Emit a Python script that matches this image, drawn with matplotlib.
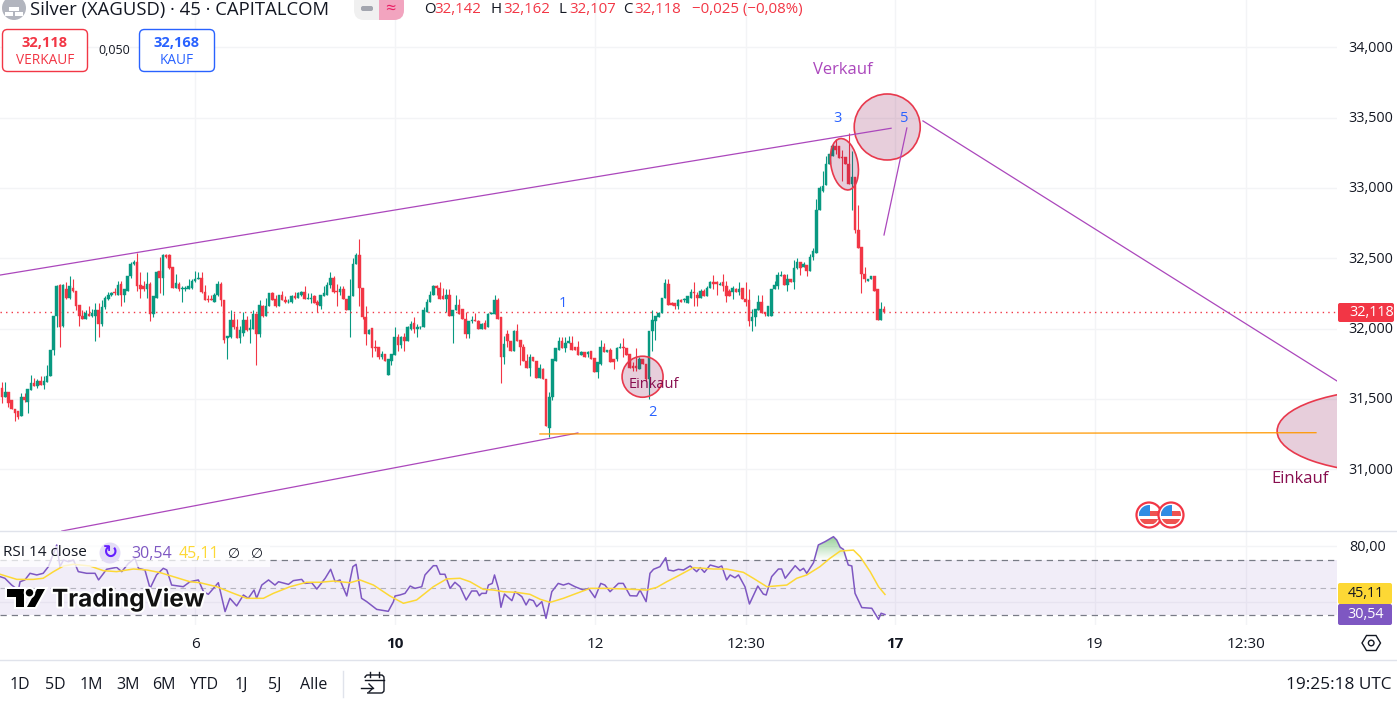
# Silver (XAGUSD) 45 min candles with RSI pane, TradingView style screenshot
import matplotlib
matplotlib.use("Agg")
import matplotlib.pyplot as plt
import matplotlib.patheffects as pe
from matplotlib.patches import Ellipse, Rectangle, FancyBboxPatch, Circle, Polygon
from matplotlib.path import Path
from matplotlib.transforms import Affine2D
import numpy as np

plt.rcParams['font.family'] = ['Open Sans', 'DejaVu Sans']

# candles
opens = [31.58,31.51,31.55,31.49,31.43,31.41,31.38,31.51,31.48,31.56,
 31.61,31.59,31.63,31.60,31.62,31.66,31.85,32.09,32.31,32.02,
 32.28,32.22,32.29,32.27,32.17,32.09,32.07,32.10,32.09,32.09,
 32.13,32.03,32.15,32.21,32.24,32.26,32.24,32.32,32.24,32.27,
 32.37,32.46,32.47,32.31,32.30,32.28,32.32,32.10,32.22,32.41,
 32.36,32.52,32.52,32.44,32.29,32.32,32.28,32.28,32.28,32.29,
 32.34,32.35,32.36,32.26,32.21,32.21,32.19,32.24,32.32,32.20,
 31.93,31.94,32.06,32.01,31.93,31.97,32.06,31.99,32.00,32.10,
 31.96,32.16,32.09,32.16,32.25,32.21,32.16,32.24,32.20,32.19,
 32.19,32.23,32.22,32.24,32.26,32.21,32.21,32.23,32.19,32.16,
 32.23,32.24,32.31,32.36,32.27,32.26,32.28,32.21,32.13,32.23,
 32.46,32.52,32.29,32.08,31.96,32.00,31.87,31.87,31.80,31.82,
 31.67,31.77,31.81,31.94,31.88,31.94,31.91,32.00,32.04,32.00,
 32.01,32.01,32.12,32.19,32.24,32.30,32.29,32.23,32.21,32.24,
 32.09,32.13,32.17,32.14,32.07,31.96,32.05,32.06,32.05,32.00,
 32.04,32.01,32.10,32.10,32.20,32.08,31.80,31.96,31.91,31.84,
 31.98,31.92,31.87,31.77,31.72,31.80,31.77,31.65,31.71,31.64,
 31.29,31.51,31.77,31.85,31.91,31.86,31.90,31.90,31.87,31.87,
 31.81,31.83,31.82,31.84,31.79,31.69,31.75,31.87,31.83,31.85,
 31.78,31.78,31.86,31.87,31.86,31.82,31.73,31.73,31.71,31.78,
 31.75,31.64,31.98,32.05,32.08,32.11,32.22,32.32,32.18,32.18,
 32.16,32.20,32.20,32.18,32.22,32.26,32.24,32.22,32.27,32.23,
 32.29,32.33,32.33,32.31,32.33,32.30,32.27,32.26,32.28,32.26,
 32.29,32.21,32.20,32.05,32.08,32.13,32.19,32.12,32.09,32.09,
 32.28,32.30,32.37,32.38,32.31,32.35,32.33,32.43,32.47,32.44,
 32.45,32.41,32.51,32.54,32.84,32.98,33.02,33.17,33.23,33.30,
 33.30,33.22,33.22,33.17,33.03,33.08,32.70,32.58,32.39,32.34,
 32.35,32.37,32.28,32.06,32.14]
highs = [31.62,31.62,31.55,31.49,31.43,31.41,31.54,31.54,31.57,31.67,
 31.65,31.64,31.66,31.66,31.74,31.85,32.09,32.31,32.32,32.32,
 32.33,32.37,32.35,32.27,32.17,32.13,32.13,32.16,32.14,32.18,
 32.18,32.20,32.23,32.26,32.26,32.29,32.34,32.34,32.28,32.37,
 32.47,32.49,32.54,32.40,32.34,32.40,32.33,32.23,32.41,32.51,
 32.53,32.53,32.53,32.44,32.39,32.33,32.30,32.30,32.35,32.35,
 32.41,32.40,32.40,32.31,32.24,32.24,32.25,32.34,32.33,32.20,
 31.95,32.13,32.11,32.07,32.02,32.12,32.09,32.07,32.13,32.11,
 32.20,32.17,32.22,32.25,32.26,32.24,32.24,32.27,32.23,32.21,
 32.24,32.26,32.26,32.27,32.30,32.25,32.25,32.24,32.20,32.24,
 32.30,32.33,32.40,32.37,32.32,32.30,32.30,32.21,32.35,32.50,
 32.54,32.64,32.29,32.16,32.00,32.00,31.92,31.87,31.84,31.82,
 31.78,31.82,32.01,31.96,31.95,31.97,32.02,32.05,32.08,32.03,
 32.02,32.15,32.21,32.27,32.31,32.31,32.33,32.29,32.28,32.28,
 32.13,32.24,32.21,32.14,32.12,32.05,32.09,32.11,32.06,32.04,
 32.06,32.11,32.12,32.24,32.22,32.08,31.95,31.99,31.91,31.99,
 32.03,31.92,31.89,31.82,31.82,31.80,31.77,31.75,31.72,31.64,
 31.55,31.78,31.86,31.94,31.94,31.94,31.95,31.95,31.87,31.91,
 31.84,31.83,31.84,31.84,31.79,31.76,31.92,31.90,31.85,31.86,
 31.78,31.87,31.90,31.93,31.86,31.82,31.76,31.86,31.80,31.78,
 31.75,31.98,32.13,32.09,32.12,32.22,32.35,32.35,32.19,32.18,
 32.21,32.21,32.22,32.23,32.28,32.33,32.26,32.28,32.28,32.30,
 32.34,32.38,32.34,32.33,32.39,32.34,32.28,32.30,32.29,32.33,
 32.29,32.33,32.28,32.14,32.14,32.24,32.24,32.12,32.16,32.28,
 32.34,32.40,32.41,32.39,32.39,32.35,32.49,32.50,32.47,32.47,
 32.45,32.53,32.57,32.92,33.01,33.12,33.23,33.24,33.31,33.35,
 33.30,33.27,33.22,33.39,33.26,33.08,32.88,32.58,32.44,32.35,
 32.37,32.37,32.28,32.19,32.16]
lows = [31.47,31.51,31.44,31.43,31.34,31.36,31.38,31.48,31.40,31.56,
 31.59,31.58,31.60,31.57,31.62,31.66,31.81,32.01,31.87,32.01,
 32.21,32.21,32.26,32.13,32.02,32.07,32.07,32.09,32.08,31.91,
 31.94,32.02,32.14,32.20,32.23,32.24,32.24,32.16,32.19,32.27,
 32.36,32.45,32.27,32.22,32.27,32.22,32.05,32.08,32.22,32.25,
 32.24,32.50,32.42,32.29,32.29,32.27,32.19,32.27,32.28,32.28,
 32.33,32.35,32.25,32.20,32.19,32.20,32.19,32.23,32.16,31.90,
 31.78,31.93,32.00,31.93,31.90,31.95,31.98,31.90,32.00,31.74,
 31.94,32.08,32.09,32.16,32.20,32.15,32.16,32.20,32.18,32.18,
 32.18,32.21,32.22,32.23,32.21,32.21,32.18,32.18,32.12,32.14,
 32.23,32.24,32.29,32.25,32.16,32.24,32.21,32.13,31.94,32.23,
 32.46,32.16,32.07,31.88,31.96,31.80,31.84,31.78,31.78,31.77,
 31.67,31.74,31.81,31.84,31.86,31.84,31.91,31.99,31.97,31.94,
 32.00,32.01,32.12,32.19,32.24,32.24,32.21,32.21,32.12,32.09,
 31.90,32.13,32.10,32.07,31.93,31.93,32.04,32.05,32.00,32.00,
 32.00,32.01,32.10,32.10,32.07,31.61,31.75,31.87,31.84,31.84,
 31.91,31.74,31.77,31.72,31.66,31.77,31.65,31.65,31.64,31.31,
 31.23,31.49,31.77,31.85,31.86,31.83,31.90,31.85,31.85,31.81,
 31.81,31.80,31.80,31.78,31.69,31.65,31.74,31.83,31.83,31.76,
 31.71,31.77,31.86,31.80,31.81,31.72,31.70,31.70,31.71,31.75,
 31.63,31.50,31.84,31.92,32.08,32.11,32.22,32.17,32.17,32.14,
 32.14,32.19,32.19,32.18,32.22,32.16,32.16,32.22,32.23,32.23,
 32.29,32.28,32.24,32.31,32.27,32.19,32.23,32.21,32.26,32.24,
 32.21,32.16,32.02,31.98,32.02,32.13,32.11,32.09,32.09,32.09,
 32.28,32.28,32.37,32.31,32.27,32.33,32.28,32.42,32.38,32.44,
 32.37,32.41,32.49,32.54,32.84,32.97,33.02,33.17,33.23,33.24,
 33.21,33.05,33.17,33.03,32.84,32.68,32.57,32.25,32.33,32.34,
 32.35,32.27,32.06,32.06,32.11]
closes = [31.51,31.55,31.47,31.43,31.40,31.37,31.51,31.49,31.57,31.61,
 31.59,31.63,31.60,31.63,31.66,31.85,32.09,32.30,32.01,32.31,
 32.22,32.30,32.27,32.16,32.09,32.07,32.11,32.09,32.11,32.13,
 32.03,32.15,32.22,32.24,32.25,32.25,32.31,32.24,32.28,32.37,
 32.46,32.47,32.30,32.28,32.28,32.32,32.10,32.23,32.40,32.36,
 32.52,32.51,32.43,32.29,32.32,32.28,32.29,32.29,32.30,32.34,
 32.35,32.36,32.26,32.20,32.20,32.20,32.24,32.32,32.20,31.92,
 31.95,32.06,32.01,31.93,31.99,32.06,31.99,32.00,32.10,31.96,
 32.17,32.09,32.16,32.25,32.20,32.16,32.24,32.20,32.19,32.19,
 32.23,32.22,32.25,32.26,32.21,32.22,32.22,32.18,32.17,32.24,
 32.25,32.31,32.36,32.26,32.26,32.28,32.21,32.13,32.23,32.46,
 32.52,32.29,32.08,31.96,31.99,31.86,31.86,31.80,31.82,31.77,
 31.78,31.82,31.94,31.88,31.94,31.91,32.01,32.03,32.00,32.01,
 32.01,32.13,32.19,32.24,32.30,32.29,32.21,32.21,32.24,32.09,
 32.13,32.17,32.10,32.07,31.96,32.05,32.06,32.05,32.00,32.03,
 32.00,32.10,32.11,32.20,32.07,31.80,31.89,31.91,31.84,31.98,
 31.91,31.87,31.77,31.72,31.80,31.77,31.65,31.72,31.64,31.31,
 31.51,31.78,31.86,31.91,31.86,31.90,31.91,31.85,31.85,31.81,
 31.83,31.80,31.83,31.78,31.69,31.76,31.87,31.83,31.85,31.76,
 31.76,31.86,31.87,31.86,31.81,31.72,31.72,31.72,31.78,31.75,
 31.64,31.98,32.06,32.09,32.11,32.22,32.32,32.17,32.17,32.16,
 32.20,32.19,32.21,32.23,32.26,32.25,32.22,32.27,32.23,32.29,
 32.33,32.32,32.32,32.32,32.30,32.23,32.23,32.29,32.26,32.28,
 32.21,32.19,32.05,32.08,32.14,32.19,32.11,32.10,32.16,32.28,
 32.31,32.38,32.38,32.31,32.35,32.33,32.43,32.47,32.43,32.46,
 32.41,32.51,32.55,32.84,33.00,33.01,33.17,33.24,33.30,33.27,
 33.21,33.21,33.17,33.03,33.08,32.70,32.57,32.39,32.35,32.35,
 32.37,32.27,32.06,32.14,32.12]
last_price = 32.118

# RSI line and its moving average, vertices
rsi_bar = [-0.6,0.9,3.0,5.1,5.6,7.1,8.7,10.8,12.8,14.4,17.0,18.0,19.1,20.6,22.2,23.7,26.3,28.9,30.0,32.5,
 35.6,37.2,39.3,41.3,42.4,44.4,46.0,48.0,50.1,51.2,52.7,56.3,58.4,61.0,62.6,64.1,67.2,69.3,70.8,72.9,
 75.0,76.5,78.3,79.1,80.7,82.8,84.8,85.9,89.0,90.5,93.1,94.1,96.2,97.8,100.4,102.1,103.5,105.0,107.1,109.0,
 110.0,111.7,113.3,116.4,120.0,121.6,122.1,123.6,125.2,126.8,128.3,130.4,131.4,134.0,135.0,136.1,137.6,139.2,140.7,142.3,
 144.2,145.9,147.5,148.3,149.0,150.4,151.1,152.3,153.0,154.2,155.0,156.1,158.4,159.4,161.5,162.8,163.8,165.1,166.1,167.7,
 169.0,170.8,172.8,174.4,176.0,178.0,180.6,182.2,184.2,186.0,187.3,188.9,191.5,193.0,195.1,197.2,198.2,200.1,201.3,202.4,
 204.4,206.2,207.0,208.6,210.1,211.7,213.8,215.8,216.9,218.2,220.0,222.6,223.6,225.1,226.2,227.7,228.8,230.8,232.2,234.8,
 236.5,237.4,239.1,241.2,242.2,243.3,246.4,247.9,249.0,250.0,252.1,253.6,255.7,258.3,259.3,260.4,261.4,262.9,264.0,265.0,
 267.1,270.2,272.3,273.1,274.3]
rsi_val = [58.0,56.8,51.9,48.3,54.3,55.6,60.4,59.2,60.4,65.2,80.9,65.2,70.0,68.8,70.0,61.6,60.4,60.4,55.6,63.3,
 64.7,61.6,67.6,71.2,64.0,62.8,49.5,59.2,64.0,62.8,51.9,50.7,54.3,55.6,47.1,45.2,53.6,32.7,42.3,36.8,
 44.7,42.3,48.3,42.3,51.9,55.6,51.9,54.3,52.4,55.1,56.0,53.1,53.6,49.0,56.8,63.3,54.3,55.6,44.0,65.2,
 66.9,42.3,39.9,34.3,32.9,39.9,44.0,44.7,45.9,51.2,49.5,50.7,59.2,65.9,65.9,59.7,59.7,49.5,53.9,50.7,
 41.1,47.6,47.6,44.2,45.9,45.9,51.9,53.1,59.2,49.5,35.8,45.4,40.6,47.1,43.5,37.5,41.6,40.6,36.3,39.9,
 27.8,47.1,53.1,51.9,53.1,50.7,48.3,49.5,42.8,53.1,51.9,47.1,53.1,53.1,44.2,44.0,48.3,39.9,60.4,63.3,
 65.2,71.7,62.8,62.1,63.3,62.8,65.7,61.6,64.5,61.1,66.4,64.7,65.7,55.6,59.2,57.2,59.2,50.7,38.2,51.2,
 45.4,44.7,58.0,63.5,63.5,56.8,65.9,62.3,64.0,60.4,68.1,80.9,83.3,86.9,84.5,79.2,77.7,66.4,65.7,45.9,
 35.6,35.1,27.1,31.5,30.54]
ma_bar = [-0.6,4.6,9.7,12.8,16.0,19.1,22.2,27.3,31.5,35.6,40.8,45.0,49.1,53.2,58.4,61.5,66.7,71.9,76.0,81.2,
 84.3,89.5,94.6,98.8,103.0,108.1,111.2,115.4,120.5,124.7,128.8,134.0,138.1,142.3,145.4,149.5,152.7,155.8,159.9,164.0,
 167.2,170.3,174.4,178.5,182.7,187.9,194.1,200.3,203.4,206.5,209.6,214.8,221.0,225.1,230.3,233.4,237.6,243.8,246.9,250.0,
 254.1,257.2,260.4,264.5,266.6,269.7,272.3,274.3]
ma_val = [59.7,56.0,56.0,56.8,61.6,65.7,66.9,65.7,62.3,61.6,63.5,62.8,60.9,58.0,54.3,53.6,50.7,45.9,42.3,42.3,
 45.9,50.7,53.9,53.9,54.8,53.6,55.6,51.9,44.0,38.7,41.1,50.7,56.3,56.8,54.3,48.8,48.3,47.1,46.6,45.2,
 41.6,39.4,42.3,45.9,49.5,49.5,49.0,48.3,50.2,54.3,58.0,64.5,63.5,63.5,61.1,56.8,50.7,51.9,56.8,59.2,
 65.2,71.2,76.5,77.2,72.4,61.6,50.7,45.11]

# axis ticks
price_ticks = [31.0, 31.5, 32.0, 32.5, 33.0, 33.5, 34.0]
price_labels = ["31,000", "31,500", "32,000", "32,500", "33,000", "33,500", "34,000"]
time_ticks = [60.0, 122.1, 184.2, 231.1, 277.4, 339.5, 386.5]
time_labels = ["6", "10", "12", "12:30", "17", "19", "12:30"]
time_bold = ["10", "17"]

# drawings on the chart, as (bar, price)
upper_trend = ([-0.6, 276.2], [32.38, 33.424])
lower_trend = ([18.6, 178.9], [30.56, 31.257])
target_line = ([167.1, 408.2], [31.25, 31.259])
down_line = ([286.1, 414.7], [33.476, 31.627])
up_line = ([274.0, 281.1], [32.665, 33.426])

W, H = 1397, 704
RIGHT = 1337
UP, DOWN = "#089981", "#f23645"
PURPLE, ORANGE = "#ab47bc", "#ff9800"
GRID = "#f3f4f6"
INK = "#131722"


def pane(top, bottom):
    return fig.add_axes([0, 1 - bottom / H, RIGHT / W, (bottom - top) / H])


fig = plt.figure(figsize=(W / 100, H / 100), dpi=100)
ax = pane(0, 531)
rsi_ax = pane(531, 625)

bar_step = 3.219
xlim = (-2 / bar_step, (RIGHT - 2) / bar_step)
up_1px = Affine2D().translate(0, 1)

# price pane
ax.set_xlim(*xlim)
ax.set_ylim(30.56, 34.336)
ax.set_autoscale_on(False)
ax.grid(True, color=GRID, lw=1)
ax.set_axisbelow(True)
ax.set_xticks(time_ticks)
ax.tick_params(axis='x', length=0, labelbottom=False)
ax.yaxis.tick_right()
ax.set_yticks(price_ticks)
ax.set_yticklabels(price_labels, fontsize=10.4, color=INK)
ax.tick_params(axis='y', length=0, pad=8.5)
for lab in ax.get_yticklabels():
    lab.set_transform(lab.get_transform() + up_1px)
for s in ax.spines.values():
    s.set_visible(False)

bars = np.arange(len(closes))
o, h, l, c = map(np.array, (opens, highs, lows, closes))
colors = np.where(c >= o, UP, DOWN)
ax.vlines(bars, l, h, colors=colors, lw=0.8, zorder=2)
ax.bar(bars, np.abs(c - o), bottom=np.minimum(o, c), width=0.8, color=colors,
       edgecolor=colors, linewidth=0.3, zorder=3)
ax.axhline(last_price, color=DOWN, lw=1, ls=(0, (1, 3)), zorder=2)

for line, col in [(upper_trend, PURPLE), (lower_trend, PURPLE), (down_line, PURPLE),
                  (up_line, PURPLE), (target_line, ORANGE)]:
    ax.plot(*line, color=col, lw=0.9, zorder=5)


def shape(bar, price, w, h, angle=0):
    # width and height in screen pixels, centre on the data scales
    cx, cy = ax.transData.transform((bar, price))
    e = Ellipse((0, 0), w, h, facecolor=(0.533, 0.055, 0.31, 0.2), edgecolor="#e8394d", lw=1.2,
                transform=Affine2D().rotate_deg(angle).translate(cx, cy), zorder=4)
    ax.add_patch(e)


shape(275.0, 33.433, 66, 66)
shape(261.7, 33.168, 27, 52, 10)
shape(199.0, 31.657, 41, 41)
shape(433.4, 31.27, 240, 84)

ax.text(202.5, 31.605, "Einkauf", color="#880e4f", fontsize=10.5, ha='center', va='center', zorder=6)
ax.text(261.2, 33.84, "Verkauf", color=PURPLE, fontsize=12, ha='center', va='center', zorder=6)
ax.text(403.2, 30.93, "Einkauf", color="#880e4f", fontsize=12, ha='center', va='center', zorder=6)
for bar, price, txt in [(174.3, 32.175, "1"), (202.2, 31.406, "2"), (259.4, 33.495, "3"), (280.2, 33.495, "5")]:
    ax.text(bar, price, txt, color="#2962ff", fontsize=10.5, ha='center', va='center', zorder=6)

# RSI pane
rsi_ax.set_xlim(*xlim)
rsi_ax.set_ylim(23.0, 91.0)
rsi_ax.set_autoscale_on(False)
rsi_ax.set_xticks(time_ticks)
rsi_ax.set_xticklabels(time_labels, fontsize=11, color=INK)
for lab in rsi_ax.get_xticklabels():
    if lab.get_text() in time_bold:
        lab.set_fontweight('bold')
rsi_ax.tick_params(axis='x', length=0, pad=9)
rsi_ax.grid(True, axis='x', color=GRID, lw=1)
rsi_ax.yaxis.tick_right()
rsi_ax.set_yticks([40, 80])
rsi_ax.set_yticklabels(["", "80,00"], fontsize=10.4, color=INK)
rsi_ax.tick_params(axis='y', length=0, pad=8.5)
for lab in rsi_ax.get_yticklabels():
    lab.set_transform(lab.get_transform() + up_1px)
for v in [40, 80]:
    rsi_ax.axhline(v, color=GRID, lw=1, zorder=0)
rsi_ax.set_axisbelow(True)
for s in rsi_ax.spines.values():
    s.set_visible(False)

rsi_ax.axhspan(30, 70, color="#7e57c2", alpha=0.1, lw=0, zorder=1)
rsi_ax.axhline(70, color="#787b86", lw=0.9, ls=(0, (5, 4)), zorder=2)
rsi_ax.axhline(50, color="#787b86", lw=0.8, ls=(0, (5, 4)), alpha=0.5, zorder=2)
rsi_ax.axhline(30, color="#787b86", lw=0.9, ls=(0, (5, 4)), zorder=2)

rsi_x, rsi_y = np.array(rsi_bar), np.array(rsi_val)
over = rsi_ax.fill_between(rsi_x, 70, rsi_y, where=rsi_y > 70, interpolate=True, color='none', lw=0)
grad = np.zeros((64, 1, 4))
grad[..., :3] = (0.3, 0.69, 0.31)
grad[:, 0, 3] = np.linspace(0, 0.6, 64)
img = rsi_ax.imshow(grad, extent=(xlim[0], xlim[1], 70, 87), origin='lower', aspect='auto', zorder=2)
img.set_clip_path(Path.make_compound_path(*over.get_paths()), transform=rsi_ax.transData)
rsi_ax.set_xlim(*xlim)
rsi_ax.set_ylim(23.0, 91.0)
rsi_ax.plot(rsi_x, rsi_y, color="#7e57c2", lw=1.1, zorder=3)
rsi_ax.plot(ma_bar, ma_val, color="#fdd835", lw=1.1, zorder=3)

# everything around the panes, in screen pixels
ui = fig.add_axes([0, 0, 1, 1], zorder=10)
ui.set_xlim(0, W)
ui.set_ylim(H, 0)
ui.axis('off')
ui.patch.set_alpha(0)


def label(x, y, txt, size=10, color=INK, ha='left', weight='normal', **kw):
    return ui.text(x, y, txt, fontsize=size, color=color, ha=ha, va='center', fontweight=weight, **kw)


def box(x0, y0, x1, y1, fc, ec='none', lw=0, r=0, **kw):
    if r:
        p = FancyBboxPatch((x0 + r, y0 + r), x1 - x0 - 2 * r, y1 - y0 - 2 * r,
                           boxstyle=f"round,pad={r},rounding_size={r}", fc=fc, ec=ec, lw=lw, **kw)
    else:
        p = Rectangle((x0, y0), x1 - x0, y1 - y0, fc=fc, ec=ec, lw=lw, **kw)
    ui.add_patch(p)
    return p


# pane separators
ui.plot([0, W], [531, 531], color="#e0e3eb", lw=1)
ui.plot([0, W], [660, 660], color="#e0e3eb", lw=1)

# header
ui.add_patch(Circle((14, 8), 12, fc="#b2b5be", ec='none'))
box(9, 7, 19, 11, "white")
box(5, 12, 13, 16, "white")
box(15, 12, 23, 16, "white")
label(30, 9.5, "Silver (XAGUSD) · 45 · CAPITALCOM", 13.3)
box(354, -8, 404, 20, "#f0f0f0", r=10)
box(379, -8, 404, 20, "#f2a4bf", r=10)
box(379, -8, 390, 20, "#f2a4bf")
box(361, 6, 373, 11, "#a3a6af", r=2)
label(390, 8.5, "≈", 13, "#e91e63", ha='center')

for head, val, x, vx in [("O", "32,142", 424, 434), ("H", "32,162", 491, 503),
                         ("L", "32,107", 559, 569), ("C", "32,118", 623, 634)]:
    label(x, 9.5, head, 10.8)
    label(vx, 9.5, val, 10.8, DOWN)
label(692, 9.5, "−0,025 (−0,08%)", 10.8, DOWN)

# buy and sell buttons
box(2.5, 29.5, 87.5, 71.5, "white", DOWN, 1, r=5)
label(45, 43, "32,118", 10.5, DOWN, ha='center', weight='bold')
label(45, 60, "VERKAUF", 9.8, DOWN, ha='center')
label(114, 50.5, "0,050", 9, INK, ha='center')
box(139.5, 29.5, 214.5, 71.5, "white", "#2962ff", 1, r=5)
label(177, 43, "32,168", 10.5, "#2962ff", ha='center', weight='bold')
label(177, 60, "KAUF", 9.8, "#2962ff", ha='center')

# price scale markers
box(1338, 303, 1394, 322, DOWN, r=2)
label(1372, 312, "32,118", 10.4, "white", ha='center')
box(1338, 583, 1392, 604, "#fdd835", r=2)
label(1366, 593.5, "45,11", 10.4, INK, ha='center')
box(1338, 604, 1392, 625, "#7e57c2", r=2)
label(1366, 614.5, "30,54", 10.4, "white", ha='center')

# event flags
for fx in (1149, 1171):
    ui.add_patch(Circle((fx, 515), 12.5, fc="white", ec=DOWN, lw=1.6))
    clip = Circle((fx, 515), 10, transform=ui.transData)
    for part in (box(fx - 10, 511, fx + 11, 516, "#ef5350"),
                 box(fx - 10, 519, fx + 11, 524, "#ef5350"),
                 box(fx - 10, 504, fx + 1, 516, "#2f8de4")):
        part.set_clip_path(clip)

# RSI legend
box(0, 546, 270, 567, "white", alpha=0.75)
label(3, 553, "RSI 14 close", 11)
ui.add_patch(Circle((110, 553), 10.5, fc="#e3dcf6", ec='none'))
label(110, 553, "↻", 13, "#651fff", ha='center', weight='bold', family='DejaVu Sans')
label(131, 554, "30,54", 11.5, "#7e57c2")
label(179, 554, "45,11", 11.5, "#fdd835")
label(234, 553.5, "∅", 10, INK, ha='center', family='DejaVu Sans')
label(257, 553.5, "∅", 10, INK, ha='center', family='DejaVu Sans')

# logo
halo = [pe.withStroke(linewidth=3, foreground="white")]
logo_parts = [
    Polygon([(7, 589), (24, 589), (24, 607), (16, 607), (16, 596.5), (7, 596.5)], closed=True, fc="black"),
    Polygon([(37, 589), (45, 589), (35, 607), (27, 607)], closed=True, fc="black"),
    Circle((29.5, 592.7), 3.7, fc="black"),
]
for part in logo_parts:
    part.set_path_effects(halo)
    ui.add_patch(part)
label(52, 599, "TradingView", 17.5, "#111111", weight='bold', family='Inter',
      path_effects=[pe.withStroke(linewidth=3, foreground="white")])

# settings hexagon under the price scale
ui.add_patch(Polygon([(1362, 643), (1366.5, 635.5), (1376, 635.5), (1380.5, 643), (1376, 650.5), (1366.5, 650.5)],
                     closed=True, fc='none', ec=INK, lw=1))
ui.add_patch(Circle((1371.2, 643), 2.8, fc='none', ec=INK, lw=1))

# bottom toolbar
for tx, txt in [(10, "1D"), (45, "5D"), (80, "1M"), (116, "3M"), (152, "6M"), (189, "YTD"), (235, "1J"), (268, "5J"), (300, "Alle")]:
    label(tx, 685, txt, 11.5)
ui.plot([343, 343], [671, 697], color="#e0e3eb", lw=1)
box(365, 675, 384, 693, "none", INK, 1, r=3)
box(358, 678, 367, 695, "white")
ui.plot([365, 384], [680, 680], color=INK, lw=1)
ui.plot([370, 370], [672, 677], color=INK, lw=1)
ui.plot([379, 379], [672, 677], color=INK, lw=1)
ui.plot([361, 373], [688, 688], color=INK, lw=1)
ui.plot([369, 373, 369], [684, 688, 692], color=INK, lw=1)
label(1392, 685, "19:25:18 UTC", 12.4, ha='right')

fig.savefig("out.png", dpi=100)
